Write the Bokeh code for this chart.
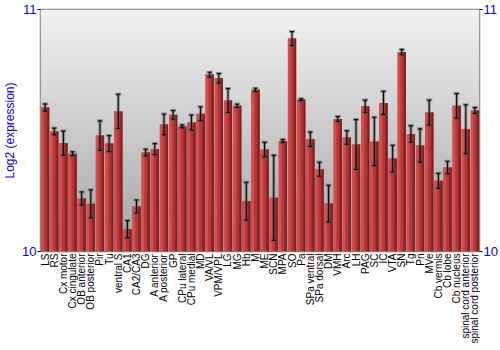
import math
import numpy as np
from bokeh.plotting import figure
from bokeh.models import (FactorRange, Range1d, LinearAxis, FixedTicker, Whisker,
                          TeeHead, ColumnDataSource)
from bokeh.transform import dodge
from bokeh.embed import file_html
from bokeh.resources import INLINE

# ---- data ----
regions = ["LS", "RS", "Cx motor", "Cx cingulate", "OB anterior", "OB posterior",
           "Pir", "Tu", "ventral S", "CA1", "CA2/CA3", "DG", "A anterior",
           "A posterior", "GP", "CPu lateral", "CPu medial", "MD", "VA/VL",
           "VPM/VPL", "LG", "MG", "Hb", "M", "ME", "SCN", "MPA", "SO", "Pa",
           "SPa ventral", "SPa dorsal", "DM", "VMH", "Arc", "LH", "PAG", "SC",
           "IC", "VTA", "SN", "Tg", "Pn", "MVe", "Cb vermis", "Cb lobe",
           "Cb nucleus", "spinal cord anterior", "spinal cord posterior"]

expression = [10.595, 10.496, 10.448, 10.404, 10.219, 10.197,
              10.479, 10.446, 10.579, 10.092, 10.186, 10.409, 10.423,
              10.525, 10.565, 10.517, 10.533, 10.569, 10.731,
              10.716, 10.624, 10.602, 10.208, 10.668, 10.421, 10.222, 10.457, 10.880, 10.627,
              10.464, 10.340, 10.198, 10.548, 10.471, 10.442, 10.600, 10.455,
              10.614, 10.384, 10.824, 10.486, 10.438, 10.574, 10.292, 10.347,
              10.602, 10.505, 10.583]

error = [0.015, 0.014, 0.050, 0.008, 0.027, 0.058,
         0.061, 0.033, 0.071, 0.036, 0.027, 0.014, 0.023,
         0.043, 0.018, 0.006, 0.031, 0.029, 0.010,
         0.020, 0.050, 0.007, 0.078, 0.007, 0.030, 0.176, 0.006, 0.029, 0.004,
         0.030, 0.029, 0.076, 0.010, 0.028, 0.103, 0.026, 0.100,
         0.048, 0.055, 0.011, 0.034, 0.069, 0.052, 0.031, 0.026,
         0.051, 0.101, 0.012]

y_ticks = [10, 11]
y_label = "Log2 (expression)"

src = ColumnDataSource(dict(
    region=regions,
    value=expression,
    upper=[v + e for v, e in zip(expression, error)],
    lower=[v - e for v, e in zip(expression, error)],
))

BLUE = "#0000ff"
FONT = "Liberation Sans"

p = figure(x_range=FactorRange(factors=regions), y_range=Range1d(y_ticks[0], y_ticks[-1]),
           width=500, height=350, output_backend="svg", toolbar_location=None,
           min_border_left=34, min_border_right=20, min_border_top=9, min_border_bottom=99)

# gradient background in plot area
n = 256
t = np.linspace(0, 1, n)  # bottom -> top
bot = np.array([164, 164, 164]); top = np.array([243, 243, 243])
img = np.zeros((n, 1), dtype=np.uint32)
view = img.view(dtype=np.uint8).reshape((n, 1, 4))
for i in range(n):
    c = bot + (top - bot) * t[i]
    view[i, 0, 0:3] = c.astype(np.uint8)
    view[i, 0, 3] = 255
p.image_rgba(image=[img], x=0, y=y_ticks[0], dw=len(regions), dh=y_ticks[-1] - y_ticks[0],
             level="underlay")

# bars with horizontal shading
p.vbar(x="region", top="value", bottom=y_ticks[0], width=0.9, source=src,
       fill_color="#b83838", line_color=None)
p.vbar(x=dodge("region", 0.3, range=p.x_range), top="value", bottom=y_ticks[0], width=0.3,
       source=src, fill_color="#982828", line_color=None)
p.vbar(x=dodge("region", 0.38, range=p.x_range), top="value", bottom=y_ticks[0], width=0.14,
       source=src, fill_color="#821e1e", line_color=None)
p.vbar(x=dodge("region", -0.3, range=p.x_range), top="value", bottom=y_ticks[0], width=0.3,
       source=src, fill_color="#d05050", line_color=None)

# error bars: grey halo + black line
halo = Whisker(base="region", upper="upper", lower="lower", source=src, level="annotation",
               line_color="#505050", line_alpha=0.5, line_width=3,
               upper_head=TeeHead(size=6, line_color="#505050", line_alpha=0.5, line_width=3),
               lower_head=TeeHead(size=6, line_color="#505050", line_alpha=0.5, line_width=3))
p.add_layout(halo)
wh = Whisker(base="region", upper="upper", lower="lower", source=src, level="annotation",
             line_color="black", line_width=1,
             upper_head=TeeHead(size=4, line_color="black", line_width=1),
             lower_head=TeeHead(size=4, line_color="black", line_width=1))
p.add_layout(wh)

p.xgrid.grid_line_color = None
p.ygrid.grid_line_color = None
p.outline_line_color = "#808080"
p.outline_line_width = 1.5
p.background_fill_color = "white"
p.border_fill_color = "white"

# left axis
ya = p.yaxis[0]
ya.ticker = FixedTicker(ticks=y_ticks)
ya.axis_label = y_label
ya.axis_label_text_color = BLUE
ya.axis_label_text_font = FONT
ya.axis_label_text_font_size = "12px"
ya.axis_label_text_font_style = "normal"
ya.axis_label_standoff = 2
ya.major_label_text_color = BLUE
ya.major_label_text_font = FONT
ya.major_label_text_font_size = "13px"
ya.major_label_standoff = 1
ya.major_tick_out = 3
ya.major_tick_in = 0
ya.minor_tick_line_color = None
ya.axis_line_color = None
ya.major_tick_line_color = "black"

# right axis
ra = LinearAxis(ticker=FixedTicker(ticks=y_ticks))
ra.major_label_text_color = BLUE
ra.major_label_text_font = FONT
ra.major_label_text_font_size = "13px"
ra.major_label_standoff = 1
ra.major_tick_out = 3
ra.major_tick_in = 0
ra.minor_tick_line_color = None
ra.axis_line_color = None
ra.major_tick_line_color = "black"
p.add_layout(ra, "right")

# bottom axis
xa = p.xaxis[0]
xa.major_label_orientation = math.pi / 2
xa.major_label_text_font = FONT
xa.major_label_text_font_size = "10px"
xa.major_label_text_color = "black"
xa.major_label_standoff = 2
xa.major_tick_line_color = None
xa.major_tick_out = 0
xa.axis_line_color = None

open("out.html", "w").write(file_html(p, INLINE))
